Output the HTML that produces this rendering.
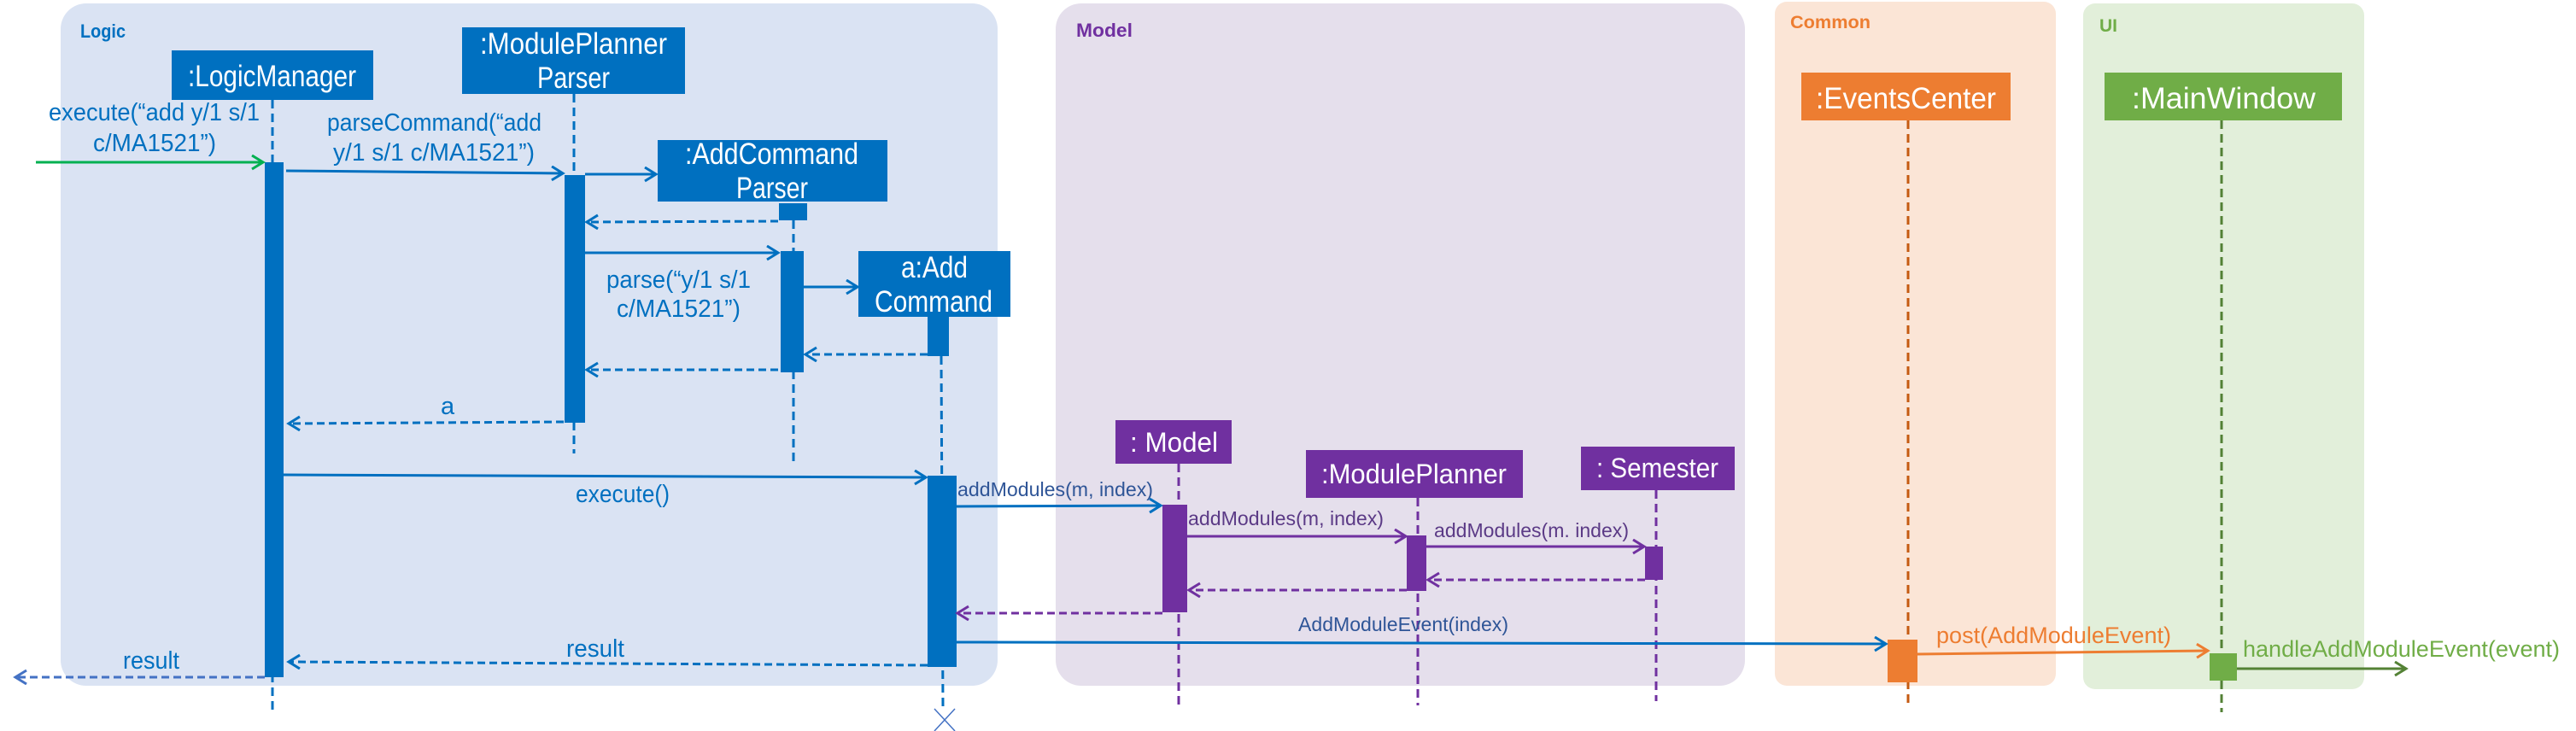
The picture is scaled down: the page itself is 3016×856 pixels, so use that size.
<!DOCTYPE html>
<html><head><meta charset="utf-8"><style>html,body{margin:0;padding:0;background:#fff}svg{display:block}</style></head>
<body>
<svg width="3016" height="856" viewBox="0 0 3016 856" xmlns="http://www.w3.org/2000/svg" font-family="'Liberation Sans', sans-serif">
<defs>
<marker id="mb" markerUnits="userSpaceOnUse" markerWidth="20" markerHeight="20" refX="15" refY="9" orient="auto"><path d="M2,1 L15,9 L2,17" fill="none" stroke="#0070C0" stroke-width="3"/></marker>
<marker id="mg" markerUnits="userSpaceOnUse" markerWidth="20" markerHeight="20" refX="15" refY="9" orient="auto"><path d="M2,1 L15,9 L2,17" fill="none" stroke="#00B050" stroke-width="3"/></marker>
<marker id="mp" markerUnits="userSpaceOnUse" markerWidth="20" markerHeight="20" refX="15" refY="9" orient="auto"><path d="M2,1 L15,9 L2,17" fill="none" stroke="#7030A0" stroke-width="3"/></marker>
<marker id="mo" markerUnits="userSpaceOnUse" markerWidth="20" markerHeight="20" refX="15" refY="9" orient="auto"><path d="M2,1 L15,9 L2,17" fill="none" stroke="#ED7D31" stroke-width="3"/></marker>
<marker id="mdg" markerUnits="userSpaceOnUse" markerWidth="20" markerHeight="20" refX="15" refY="9" orient="auto"><path d="M2,1 L15,9 L2,17" fill="none" stroke="#548235" stroke-width="3"/></marker>
<marker id="ml" markerUnits="userSpaceOnUse" markerWidth="20" markerHeight="20" refX="15" refY="9" orient="auto"><path d="M2,1 L15,9 L2,17" fill="none" stroke="#4472C4" stroke-width="3"/></marker>
</defs>

<rect x="71" y="4" width="1097" height="799" rx="30" fill="#DAE3F3"/>
<rect x="1236" y="4" width="807" height="799" rx="30" fill="#E5DFEC"/>
<rect x="2078" y="2" width="329" height="801" rx="14" fill="#FBE5D6"/>
<rect x="2439" y="4" width="329" height="803" rx="14" fill="#E2EFDA"/>
<text x="94" y="44" font-size="22" font-weight="bold" fill="#0070C0" textLength="53" lengthAdjust="spacingAndGlyphs">Logic</text>
<text x="1260" y="43" font-size="22" font-weight="bold" fill="#7030A0" textLength="66" lengthAdjust="spacingAndGlyphs">Model</text>
<text x="2096" y="33" font-size="21" font-weight="bold" fill="#ED7D31" textLength="94" lengthAdjust="spacingAndGlyphs">Common</text>
<text x="2458" y="37" font-size="21" font-weight="bold" fill="#70AD47" textLength="21" lengthAdjust="spacingAndGlyphs">UI</text>

<g stroke-width="3" stroke-dasharray="10,6" fill="none">
<line x1="319" y1="117" x2="319" y2="836" stroke="#0070C0"/>
<line x1="672" y1="110" x2="672" y2="531" stroke="#0070C0"/>
<line x1="929" y1="258" x2="929" y2="543" stroke="#0070C0"/>
<line x1="1102" y1="417" x2="1104" y2="830" stroke="#0070C0"/>
<line x1="1380" y1="543" x2="1380" y2="826" stroke="#7030A0"/>
<line x1="1660" y1="583" x2="1660" y2="826" stroke="#7030A0"/>
<line x1="1939" y1="574" x2="1939" y2="821" stroke="#7030A0"/>
<line x1="2234" y1="141" x2="2234" y2="826" stroke="#C55A11"/>
<line x1="2601" y1="141" x2="2601" y2="834" stroke="#538135"/>
</g>
<path d="M1094,830 L1118,856 M1118,830 L1094,856" stroke="#4472C4" stroke-width="1.5"/>

<g fill="#0070C0">
<rect x="201" y="59" width="236" height="58"/>
<rect x="541" y="32" width="261" height="78"/>
<rect x="770" y="164" width="269" height="72"/>
<rect x="1005" y="294" width="178" height="77"/>
</g>
<g fill="#fff" font-size="35" lengthAdjust="spacingAndGlyphs">
<text x="220" y="101" textLength="197" lengthAdjust="spacingAndGlyphs">:LogicManager</text>
<text x="562" y="63" textLength="219" lengthAdjust="spacingAndGlyphs">:ModulePlanner</text>
<text x="629" y="103" textLength="85" lengthAdjust="spacingAndGlyphs">Parser</text>
<text x="802" y="192" textLength="203" lengthAdjust="spacingAndGlyphs">:AddCommand</text>
<text x="862" y="232" textLength="84" lengthAdjust="spacingAndGlyphs">Parser</text>
<text x="1055" y="325" textLength="78" lengthAdjust="spacingAndGlyphs">a:Add</text>
<text x="1024" y="365" textLength="138" lengthAdjust="spacingAndGlyphs">Command</text>
</g>
<g fill="#7030A0">
<rect x="1306" y="492" width="136" height="51"/>
<rect x="1529" y="527" width="254" height="56"/>
<rect x="1851" y="523" width="180" height="51"/>
</g>
<g fill="#fff" font-size="32">
<text x="1323" y="529" textLength="103" lengthAdjust="spacingAndGlyphs">: Model</text>
<text x="1547" y="566" textLength="217" lengthAdjust="spacingAndGlyphs">:ModulePlanner</text>
<text x="1869" y="559" textLength="143" lengthAdjust="spacingAndGlyphs">: Semester</text>
</g>
<rect x="2109" y="85" width="245" height="56" fill="#ED7D31"/>
<rect x="2464" y="85" width="278" height="56" fill="#70AD47"/>
<g fill="#fff" font-size="35">
<text x="2126" y="127" textLength="211" lengthAdjust="spacingAndGlyphs">:EventsCenter</text>
<text x="2496" y="127" textLength="215" lengthAdjust="spacingAndGlyphs">:MainWindow</text>
</g>

<g fill="#0070C0">
<rect x="310" y="190" width="22" height="603"/>
<rect x="661" y="205" width="24" height="290"/>
<rect x="912" y="238" width="33" height="20"/>
<rect x="914" y="294" width="27" height="142"/>
<rect x="1086" y="371" width="25" height="46"/>
<rect x="1086" y="557" width="34" height="224"/>
</g>
<g fill="#7030A0">
<rect x="1361" y="591" width="29" height="126"/>
<rect x="1647" y="627" width="23" height="65"/>
<rect x="1926" y="640" width="21" height="39"/>
</g>
<rect x="2210" y="749" width="35" height="50" fill="#ED7D31"/>
<rect x="2587" y="765" width="32" height="32" fill="#70AD47"/>

<g stroke-width="3" fill="none">
<line x1="42" y1="190" x2="308" y2="190" stroke="#00B050" marker-end="url(#mg)"/>
<line x1="335" y1="200" x2="659" y2="203" stroke="#0070C0" marker-end="url(#mb)"/>
<line x1="685" y1="204" x2="768" y2="204" stroke="#0070C0" marker-end="url(#mb)"/>
<line x1="911" y1="259" x2="687" y2="260" stroke="#0070C0" stroke-dasharray="9,5" marker-end="url(#mb)"/>
<line x1="685" y1="296" x2="911" y2="296" stroke="#0070C0" marker-end="url(#mb)"/>
<line x1="941" y1="336" x2="1004" y2="336" stroke="#0070C0" marker-end="url(#mb)"/>
<line x1="1086" y1="415" x2="943" y2="415" stroke="#0070C0" stroke-dasharray="9,5" marker-end="url(#mb)"/>
<line x1="911" y1="433" x2="687" y2="433" stroke="#0070C0" stroke-dasharray="9,5" marker-end="url(#mb)"/>
<line x1="660" y1="494" x2="338" y2="496" stroke="#0070C0" stroke-dasharray="9,5" marker-end="url(#mb)"/>
<line x1="332" y1="556" x2="1084" y2="559" stroke="#0070C0" marker-end="url(#mb)"/>
<line x1="1086" y1="779" x2="338" y2="775" stroke="#0070C0" stroke-dasharray="9,5" marker-end="url(#mb)"/>
<line x1="310" y1="793" x2="18" y2="793" stroke="#4472C4" stroke-dasharray="9,5" marker-end="url(#ml)"/>
<line x1="1120" y1="593" x2="1359" y2="592" stroke="#0070C0" marker-end="url(#mb)"/>
<line x1="1390" y1="628" x2="1646" y2="628" stroke="#7030A0" marker-end="url(#mp)"/>
<line x1="1670" y1="640" x2="1925" y2="640" stroke="#7030A0" marker-end="url(#mp)"/>
<line x1="1926" y1="679" x2="1672" y2="679" stroke="#7030A0" stroke-dasharray="9,5" marker-end="url(#mp)"/>
<line x1="1647" y1="691" x2="1392" y2="691" stroke="#7030A0" stroke-dasharray="9,5" marker-end="url(#mp)"/>
<line x1="1361" y1="718" x2="1121" y2="718" stroke="#7030A0" stroke-dasharray="9,5" marker-end="url(#mp)"/>
<line x1="1120" y1="752" x2="2208" y2="754" stroke="#0070C0" marker-end="url(#mb)"/>
<line x1="2245" y1="766" x2="2585" y2="762" stroke="#ED7D31" marker-end="url(#mo)"/>
<line x1="2619" y1="783" x2="2817" y2="783" stroke="#548235" marker-end="url(#mdg)"/>
</g>

<g fill="#0070C0" font-size="29">
<text x="57" y="141" textLength="247" lengthAdjust="spacingAndGlyphs">execute(“add y/1 s/1</text>
<text x="109" y="177" textLength="144" lengthAdjust="spacingAndGlyphs">c/MA1521”)</text>
<text x="383" y="153" textLength="251" lengthAdjust="spacingAndGlyphs">parseCommand(“add</text>
<text x="390" y="188" textLength="236" lengthAdjust="spacingAndGlyphs">y/1 s/1 c/MA1521”)</text>
<text x="710" y="337" textLength="169" lengthAdjust="spacingAndGlyphs">parse(“y/1 s/1</text>
<text x="722" y="371" textLength="145" lengthAdjust="spacingAndGlyphs">c/MA1521”)</text>
<text x="516" y="485">a</text>
<text x="674" y="588" textLength="110" lengthAdjust="spacingAndGlyphs">execute()</text>
<text x="663" y="769" textLength="68" lengthAdjust="spacingAndGlyphs">result</text>
<text x="144" y="783" textLength="66" lengthAdjust="spacingAndGlyphs">result</text>
</g>
<g font-size="23">
<text x="1121" y="581" fill="#2F5597" textLength="229" lengthAdjust="spacingAndGlyphs">addModules(m, index)</text>
<text x="1391" y="615" fill="#5B3A86" textLength="229" lengthAdjust="spacingAndGlyphs">addModules(m, index)</text>
<text x="1679" y="629" fill="#5B3A86" textLength="228" lengthAdjust="spacingAndGlyphs">addModules(m. index)</text>
<text x="1520" y="739" fill="#2F5597" textLength="246" lengthAdjust="spacingAndGlyphs">AddModuleEvent(index)</text>
</g>
<text x="2267" y="753" font-size="27" fill="#ED7D31" textLength="275" lengthAdjust="spacingAndGlyphs">post(AddModuleEvent)</text>
<text x="2626" y="769" font-size="27" fill="#70AD47" textLength="371" lengthAdjust="spacingAndGlyphs">handleAddModuleEvent(event)</text>
</svg>
</body></html>
